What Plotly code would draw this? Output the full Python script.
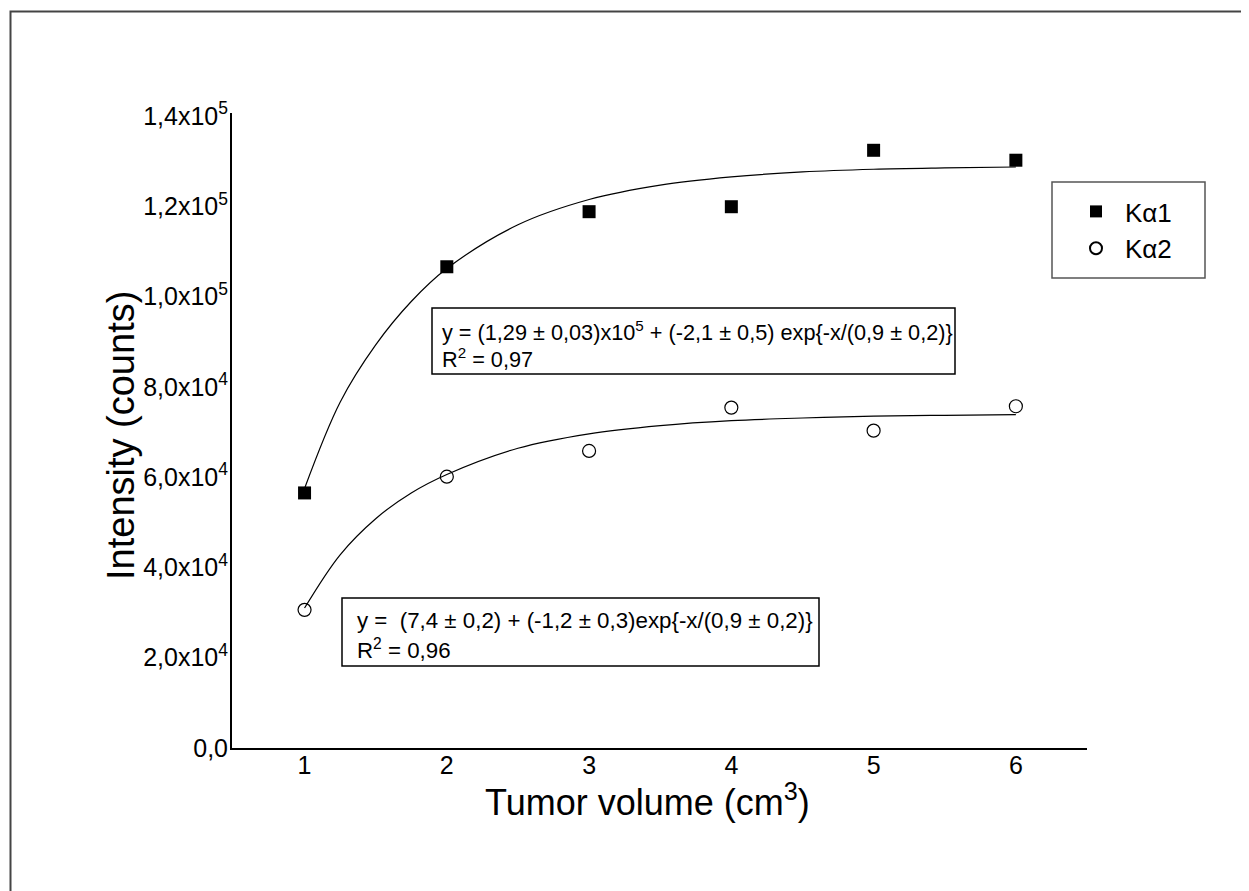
import plotly.graph_objects as go

# ---------------- data ----------------
volume = [1, 2, 3, 4, 5, 6]
ka1 = [56500, 106600, 118800, 119900, 132400, 130200]
ka2 = [30600, 60100, 65800, 75400, 70300, 75700]

fit_x = [1, 1.25, 1.5, 1.75, 2, 2.5, 3, 3.5, 4, 4.5, 5, 5.5, 6]
fit_ka1 = [57500, 76600, 89300, 98900, 106200, 115900, 121500, 124700, 126500, 127600, 128200, 128500, 128700]
fit_ka2 = [31000, 42800, 50800, 56500, 60600, 66400, 69600, 71400, 72500, 73100, 73500, 73700, 73850]

x_ticks = [1, 2, 3, 4, 5, 6]
y_tickvals = [0, 20000, 40000, 60000, 80000, 100000, 120000, 140000]
y_ticktext = ["0,0", "2,0x10<sup>4</sup>", "4,0x10<sup>4</sup>", "6,0x10<sup>4</sup>",
              "8,0x10<sup>4</sup>", "1,0x10<sup>5</sup>", "1,2x10<sup>5</sup>", "1,4x10<sup>5</sup>"]

eq1 = "y = (1,29 ± 0,03)x10<sup>5</sup> + (-2,1 ± 0,5) exp{-x/(0,9 ± 0,2)}"
r2_1 = "R<sup>2</sup> = 0,97"
eq2 = "y =  (7,4 ± 0,2) + (-1,2 ± 0,3)exp{-x/(0,9 ± 0,2)}"
r2_2 = "R<sup>2</sup> = 0,96"

# ---------------- layout helpers (page pixel coordinates) ----------------
PAGE_W, PAGE_H = 1249, 891
OFF = 8                      # default body margin of the html page
W, H = PAGE_W - OFF, PAGE_H - OFF
L, R, T, B = 232, 1087, 113, 748
FONT = "Arial, 'Liberation Sans', sans-serif"


def px(x):
    return (x - L) / (R - L)


def py(y):
    return (B - y) / (B - T)


fig = go.Figure()

fig.add_trace(go.Scatter(x=fit_x, y=fit_ka1, mode="lines", line=dict(color="black", width=1.2, shape="spline"),
                         showlegend=False, hoverinfo="skip"))
fig.add_trace(go.Scatter(x=fit_x, y=fit_ka2, mode="lines", line=dict(color="black", width=1.2, shape="spline"),
                         showlegend=False, hoverinfo="skip"))
fig.add_trace(go.Scatter(x=volume, y=ka1, mode="markers", name="Kα1",
                         marker=dict(symbol="square", size=13, color="black", line=dict(width=0))))
fig.add_trace(go.Scatter(x=volume, y=ka2, mode="markers", name="Kα2",
                         marker=dict(symbol="circle-open", size=13, color="black", line=dict(width=1.2, color="black"))))

shapes = [
    # outer frame (extends beyond the right / bottom edge)
    dict(type="rect", xref="paper", yref="paper", x0=px(10.5), x1=px(1275), y0=py(910), y1=py(11.5),
         line=dict(color="#444444", width=2), fillcolor="rgba(0,0,0,0)", layer="below"),
    # equation boxes
    dict(type="rect", xref="paper", yref="paper", x0=px(432), x1=px(955), y0=py(374), y1=py(308),
         line=dict(color="black", width=1.5), fillcolor="white"),
    dict(type="rect", xref="paper", yref="paper", x0=px(342), x1=px(819), y0=py(666), y1=py(598),
         line=dict(color="black", width=1.5), fillcolor="white"),
    # legend box
    dict(type="rect", xref="paper", yref="paper", x0=px(1052), x1=px(1205), y0=py(278), y1=py(182),
         line=dict(color="#555555", width=1.5), fillcolor="white"),
]

annotations = [
    dict(text=eq1, x=px(440), y=py(331), xanchor="left", yanchor="middle", size=21.7),
    dict(text=r2_1, x=px(440), y=py(358), xanchor="left", yanchor="middle", size=21.7),
    dict(text=eq2, x=px(355), y=py(620), xanchor="left", yanchor="middle", size=22.3),
    dict(text=r2_2, x=px(355), y=py(649), xanchor="left", yanchor="middle", size=22.3),
]
for a in annotations:
    s = a.pop("size")
    a.update(xref="paper", yref="paper", showarrow=False, font=dict(family=FONT, size=s, color="black"))

annotations.append(dict(text="Tumor volume (cm<sup>3</sup>)", x=px(647), y=py(800), xref="paper", yref="paper",
                        showarrow=False, xanchor="center", yanchor="middle",
                        font=dict(family=FONT, size=36, color="black")))
annotations.append(dict(text="Intensity (counts)", x=px(121), y=py(436), xref="paper", yref="paper",
                        showarrow=False, xanchor="center", yanchor="middle", textangle=-90,
                        font=dict(family=FONT, size=38, color="black")))

fig.update_layout(
    width=W, height=H,
    margin=dict(l=L - OFF, r=PAGE_W - R, t=T - OFF, b=PAGE_H - B, pad=0),
    paper_bgcolor="white", plot_bgcolor="white",
    font=dict(family=FONT, color="black"),
    shapes=shapes,
    annotations=annotations,
    showlegend=True,
    legend=dict(x=px(1067), y=py(188), xanchor="left", yanchor="top", bgcolor="rgba(0,0,0,0)",
                borderwidth=0, font=dict(family=FONT, size=26, color="black"),
                itemsizing="constant", itemwidth=48),
    xaxis=dict(range=[0.49, 6.5], tickvals=x_ticks, ticktext=[str(v) for v in x_ticks],
               showline=True, linecolor="black", linewidth=2, ticks="", showgrid=False, zeroline=False,
               ticklabelstandoff=-6,
               tickfont=dict(family=FONT, size=25, color="black")),
    yaxis=dict(range=[0, 140660], tickvals=y_tickvals, ticktext=y_ticktext,
               showline=True, linecolor="black", linewidth=2, ticks="", showgrid=False, zeroline=False,
               ticklabelstandoff=-3,
               tickfont=dict(family=FONT, size=25, color="black")),
)

fig.write_html("out.html")
